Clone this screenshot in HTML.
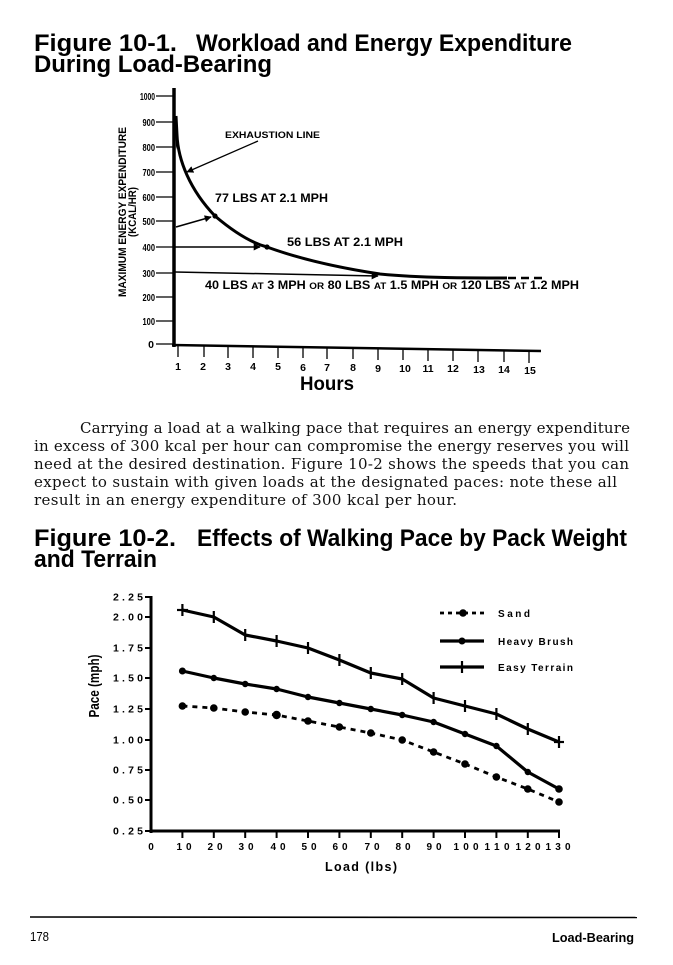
<!DOCTYPE html>
<html><head><meta charset="utf-8"><style>
html,body{margin:0;padding:0;background:#fff;}
svg{display:block;}
.t{font-family:"Liberation Sans",sans-serif;font-weight:bold;fill:#000;}
.s{font-family:"DejaVu Serif",serif;fill:#111;font-size:15px;}
</style></head><body>
<svg width="673" height="965" viewBox="0 0 673 965" xmlns="http://www.w3.org/2000/svg">
<rect width="673" height="965" fill="#fff"/>
<defs>
<marker id="ah" viewBox="0 0 10 10" refX="9" refY="5" markerWidth="7" markerHeight="7" orient="auto" markerUnits="userSpaceOnUse">
<path d="M0,0 L10,5 L0,10 z" fill="#000"/></marker>
</defs>

<!-- Title 1 -->
<text class="t" x="34" y="51" font-size="24" textLength="143" lengthAdjust="spacingAndGlyphs">Figure 10-1.</text>
<text class="t" x="196" y="51" font-size="24" textLength="376" lengthAdjust="spacingAndGlyphs">Workload and Energy Expenditure</text>
<text class="t" x="34" y="72" font-size="24" textLength="238" lengthAdjust="spacingAndGlyphs">During Load-Bearing</text>

<!-- Chart 1 axes -->
<line x1="174" y1="88" x2="174" y2="347" stroke="#000" stroke-width="3.5"/>
<line x1="172" y1="345" x2="541" y2="351" stroke="#000" stroke-width="2.5"/>
<g stroke="#000" stroke-width="1.2">
<line x1="156" y1="96" x2="173" y2="96"/>
<line x1="156" y1="122" x2="173" y2="122"/>
<line x1="156" y1="147" x2="173" y2="147"/>
<line x1="156" y1="172" x2="173" y2="172"/>
<line x1="156" y1="197" x2="173" y2="197"/>
<line x1="156" y1="221" x2="173" y2="221"/>
<line x1="156" y1="247" x2="173" y2="247"/>
<line x1="156" y1="273" x2="173" y2="273"/>
<line x1="156" y1="297" x2="173" y2="297"/>
<line x1="156" y1="321" x2="173" y2="321"/>
<line x1="156" y1="344" x2="173" y2="344"/>
</g>
<g class="t" font-size="10.5" text-anchor="end">
<text x="155" y="100" textLength="15" lengthAdjust="spacingAndGlyphs">1000</text>
<text x="155" y="126" textLength="12.5" lengthAdjust="spacingAndGlyphs">900</text>
<text x="155" y="151" textLength="12.5" lengthAdjust="spacingAndGlyphs">800</text>
<text x="155" y="176" textLength="12.5" lengthAdjust="spacingAndGlyphs">700</text>
<text x="155" y="201" textLength="12.5" lengthAdjust="spacingAndGlyphs">600</text>
<text x="155" y="225" textLength="12.5" lengthAdjust="spacingAndGlyphs">500</text>
<text x="155" y="251" textLength="12.5" lengthAdjust="spacingAndGlyphs">400</text>
<text x="155" y="277" textLength="12.5" lengthAdjust="spacingAndGlyphs">300</text>
<text x="155" y="301" textLength="12.5" lengthAdjust="spacingAndGlyphs">200</text>
<text x="155" y="325" textLength="12.5" lengthAdjust="spacingAndGlyphs">100</text>
<text x="154" y="348">0</text>
</g>
<text class="t" font-size="11" transform="translate(126,212) rotate(-90)" text-anchor="middle" textLength="170" lengthAdjust="spacingAndGlyphs">MAXIMUM ENERGY EXPENDITURE</text>
<text class="t" font-size="11" transform="translate(136,212) rotate(-90)" text-anchor="middle" textLength="50" lengthAdjust="spacingAndGlyphs">(KCAL/HR)</text>

<!-- x ticks chart1 -->
<g stroke="#000" stroke-width="1.3">
<line x1="178" y1="345" x2="178" y2="357"/>
<line x1="204" y1="346" x2="204" y2="357"/>
<line x1="228" y1="346" x2="228" y2="358"/>
<line x1="253" y1="346" x2="253" y2="358"/>
<line x1="278" y1="347" x2="278" y2="358"/>
<line x1="303" y1="347" x2="303" y2="358"/>
<line x1="327" y1="347" x2="327" y2="359"/>
<line x1="353" y1="348" x2="353" y2="359"/>
<line x1="378" y1="348" x2="378" y2="360"/>
<line x1="403" y1="349" x2="403" y2="360"/>
<line x1="428" y1="349" x2="428" y2="361"/>
<line x1="453" y1="349" x2="453" y2="361"/>
<line x1="478" y1="350" x2="478" y2="362"/>
<line x1="504" y1="350" x2="504" y2="362"/>
<line x1="529" y1="351" x2="529" y2="363"/>
</g>
<g class="t" font-size="10.5" text-anchor="middle">
<text x="178" y="370">1</text><text x="203" y="370">2</text><text x="228" y="370">3</text>
<text x="253" y="370">4</text><text x="278" y="370">5</text><text x="303" y="371">6</text>
<text x="327" y="371">7</text><text x="353" y="371">8</text><text x="378" y="372">9</text>
<text x="405" y="372">10</text><text x="428" y="372">11</text><text x="453" y="372">12</text>
<text x="479" y="373">13</text><text x="504" y="373">14</text><text x="530" y="374">15</text>
</g>
<text class="t" x="327" y="390" font-size="19" text-anchor="middle" textLength="54" lengthAdjust="spacingAndGlyphs">Hours</text>

<!-- curve -->
<path d="M176,116 L177,135 C178,160 190,190 215,216 C235,233 252,243 267,247 C300,259 340,268 380,274 C420,278 470,278 507,278" fill="none" stroke="#000" stroke-width="3"/>
<path d="M175,118 L177,118 L178,140 L176,150 z" fill="#000"/>
<line x1="508" y1="278" x2="543" y2="278" stroke="#000" stroke-width="2.5" stroke-dasharray="8,5"/>
<!-- 300 line -->
<line x1="175" y1="272" x2="378" y2="276" stroke="#000" stroke-width="1.5" marker-end="url(#ah)"/>
<!-- 56 arrow -->
<line x1="175" y1="247" x2="260" y2="247" stroke="#000" stroke-width="1.6" marker-end="url(#ah)"/>
<circle cx="267" cy="247" r="2.6" fill="#000"/>
<!-- 77 arrow -->
<line x1="176" y1="227" x2="211" y2="217" stroke="#000" stroke-width="1.6" marker-end="url(#ah)"/>
<circle cx="215" cy="216" r="2.6" fill="#000"/>
<!-- exhaustion arrow -->
<line x1="258" y1="141" x2="187" y2="172" stroke="#000" stroke-width="1.3" marker-end="url(#ah)"/>

<text class="t" x="225" y="138" font-size="9.5" textLength="95" lengthAdjust="spacingAndGlyphs">EXHAUSTION LINE</text>
<text class="t" x="215" y="202" font-size="11.5" textLength="113" lengthAdjust="spacingAndGlyphs">77 LBS AT 2.1 MPH</text>
<text class="t" x="287" y="246" font-size="11.5" textLength="116" lengthAdjust="spacingAndGlyphs">56 LBS AT 2.1 MPH</text>
<text class="t" x="205" y="289" font-size="11.5" textLength="374" lengthAdjust="spacingAndGlyphs">40 LBS <tspan font-size="9">AT</tspan> 3 MPH <tspan font-size="9">OR</tspan> 80 LBS <tspan font-size="9">AT</tspan> 1.5 MPH <tspan font-size="9">OR</tspan> 120 LBS <tspan font-size="9">AT</tspan> 1.2 MPH</text>

<!-- paragraph -->
<text class="s" x="80" y="433" textLength="550" lengthAdjust="spacing">Carrying a load at a walking pace that requires an energy expenditure</text>
<text class="s" x="34" y="451" textLength="595" lengthAdjust="spacing">in excess of 300 kcal per hour can compromise the energy reserves you will</text>
<text class="s" x="34" y="469" textLength="595" lengthAdjust="spacing">need at the desired destination. Figure 10-2 shows the speeds that you can</text>
<text class="s" x="34" y="487" textLength="583" lengthAdjust="spacing">expect to sustain with given loads at the designated paces: note these all</text>
<text class="s" x="34" y="505" textLength="423" lengthAdjust="spacing">result in an energy expenditure of 300 kcal per hour.</text>

<!-- Title 2 -->
<text class="t" x="34" y="546" font-size="24" textLength="142" lengthAdjust="spacingAndGlyphs">Figure 10-2.</text>
<text class="t" x="197" y="546" font-size="24" textLength="430" lengthAdjust="spacingAndGlyphs">Effects of Walking Pace by Pack Weight</text>
<text class="t" x="34" y="567" font-size="24" textLength="123" lengthAdjust="spacingAndGlyphs">and Terrain</text>

<!-- Chart 2 axes -->
<line x1="151" y1="596" x2="151" y2="833" stroke="#000" stroke-width="3"/>
<line x1="150" y1="831" x2="560" y2="831" stroke="#000" stroke-width="3"/>
<g stroke="#000" stroke-width="2">
<line x1="145" y1="597" x2="151" y2="597"/>
<line x1="145" y1="617" x2="151" y2="617"/>
<line x1="145" y1="648" x2="151" y2="648"/>
<line x1="145" y1="678" x2="151" y2="678"/>
<line x1="145" y1="709" x2="151" y2="709"/>
<line x1="145" y1="740" x2="151" y2="740"/>
<line x1="145" y1="770" x2="151" y2="770"/>
<line x1="145" y1="800" x2="151" y2="800"/>
<line x1="145" y1="831" x2="151" y2="831"/>
</g>
<g class="t" font-size="10.5" text-anchor="end">
<text x="143" y="600.5" textLength="30" lengthAdjust="spacing">2.25</text>
<text x="143" y="620.5" textLength="30" lengthAdjust="spacing">2.00</text>
<text x="143" y="651.5" textLength="30" lengthAdjust="spacing">1.75</text>
<text x="143" y="681.5" textLength="30" lengthAdjust="spacing">1.50</text>
<text x="143" y="712.5" textLength="30" lengthAdjust="spacing">1.25</text>
<text x="143" y="743.5" textLength="30" lengthAdjust="spacing">1.00</text>
<text x="143" y="773.5" textLength="30" lengthAdjust="spacing">0.75</text>
<text x="143" y="803.5" textLength="30" lengthAdjust="spacing">0.50</text>
<text x="143" y="834.5" textLength="30" lengthAdjust="spacing">0.25</text>
</g>
<g stroke="#000" stroke-width="2">
<line x1="182.4" y1="831" x2="182.4" y2="838"/><line x1="213.8" y1="831" x2="213.8" y2="838"/>
<line x1="245.2" y1="831" x2="245.2" y2="838"/><line x1="276.6" y1="831" x2="276.6" y2="838"/>
<line x1="308" y1="831" x2="308" y2="838"/><line x1="339.4" y1="831" x2="339.4" y2="838"/>
<line x1="370.8" y1="831" x2="370.8" y2="838"/><line x1="402.2" y1="831" x2="402.2" y2="838"/>
<line x1="433.6" y1="831" x2="433.6" y2="838"/><line x1="465" y1="831" x2="465" y2="838"/>
<line x1="496.4" y1="831" x2="496.4" y2="838"/><line x1="527.8" y1="831" x2="527.8" y2="838"/>
<line x1="559" y1="831" x2="559" y2="838"/>
</g>
<g class="t" font-size="10" text-anchor="middle">
<text x="151" y="850">0</text>
<text x="184" y="850" textLength="15" lengthAdjust="spacing">10</text>
<text x="215" y="850" textLength="15" lengthAdjust="spacing">20</text>
<text x="246" y="850" textLength="15" lengthAdjust="spacing">30</text>
<text x="278" y="850" textLength="15" lengthAdjust="spacing">40</text>
<text x="309" y="850" textLength="15" lengthAdjust="spacing">50</text>
<text x="340" y="850" textLength="15" lengthAdjust="spacing">60</text>
<text x="372" y="850" textLength="15" lengthAdjust="spacing">70</text>
<text x="403" y="850" textLength="15" lengthAdjust="spacing">80</text>
<text x="434" y="850" textLength="15" lengthAdjust="spacing">90</text>
<text x="466" y="850" textLength="25" lengthAdjust="spacing">100</text>
<text x="497" y="850" textLength="25" lengthAdjust="spacing">110</text>
<text x="528" y="850" textLength="25" lengthAdjust="spacing">120</text>
<text x="558" y="850" textLength="25" lengthAdjust="spacing">130</text>
</g>
<text class="t" x="361" y="871" font-size="12.5" text-anchor="middle" textLength="72" lengthAdjust="spacing">Load (lbs)</text>
<text class="t" font-size="15" transform="translate(99,686) rotate(-90)" text-anchor="middle" textLength="63" lengthAdjust="spacingAndGlyphs" style="font-weight:600">Pace  (mph)</text>

<!-- Series -->
<polyline fill="none" stroke="#000" stroke-width="3.2" stroke-linejoin="round" points="182.4,610 213.8,617 245.2,635 276.6,641 308,648 339.4,660 370.8,673 402.2,679 433.6,698 465,706 496.4,714 527.8,729 559,742"/>
<g stroke="#000" stroke-width="2.2">
<line x1="182.4" y1="604" x2="182.4" y2="616"/><line x1="177" y1="610" x2="188" y2="610"/>
<line x1="213.8" y1="611" x2="213.8" y2="623"/>
<line x1="245.2" y1="629" x2="245.2" y2="641"/>
<line x1="276.6" y1="635" x2="276.6" y2="647"/>
<line x1="308" y1="642" x2="308" y2="654"/>
<line x1="339.4" y1="654" x2="339.4" y2="666"/>
<line x1="370.8" y1="667" x2="370.8" y2="679"/>
<line x1="402.2" y1="673" x2="402.2" y2="685"/>
<line x1="433.6" y1="692" x2="433.6" y2="704"/>
<line x1="465" y1="700" x2="465" y2="712"/>
<line x1="496.4" y1="708" x2="496.4" y2="720"/>
<line x1="527.8" y1="723" x2="527.8" y2="735"/>
<line x1="559" y1="736" x2="559" y2="748"/><line x1="554" y1="742" x2="564" y2="742"/>
</g>
<polyline fill="none" stroke="#000" stroke-width="3.2" stroke-linejoin="round" points="182.4,671 213.8,678 245.2,684 276.6,689 308,697 339.4,703 370.8,709 402.2,715 433.6,722 465,734 496.4,746 527.8,772 559,789"/>
<g fill="#000">
<circle cx="182.4" cy="671" r="3.5"/><circle cx="213.8" cy="678" r="3.2"/><circle cx="245.2" cy="684" r="3.2"/>
<circle cx="276.6" cy="689" r="3.2"/><circle cx="308" cy="697" r="3.2"/><circle cx="339.4" cy="703" r="3.2"/>
<circle cx="370.8" cy="709" r="3.2"/><circle cx="402.2" cy="715" r="3.2"/><circle cx="433.6" cy="722" r="3.2"/>
<circle cx="465" cy="734" r="3.2"/><circle cx="496.4" cy="746" r="3.2"/><circle cx="527.8" cy="772" r="3.2"/>
<circle cx="559" cy="789" r="3.8"/>
</g>
<polyline fill="none" stroke="#000" stroke-width="2.8" stroke-dasharray="5,5" points="182.4,706 213.8,708 245.2,712 276.6,715 308,721 339.4,727 370.8,733 402.2,740 433.6,752 465,764 496.4,777 527.8,789 559,802"/>
<g fill="#000">
<circle cx="182.4" cy="706" r="3.8"/><circle cx="213.8" cy="708" r="3.8"/><circle cx="245.2" cy="712" r="3.8"/>
<circle cx="276.6" cy="715" r="4.2"/><circle cx="308" cy="721" r="3.8"/><circle cx="339.4" cy="727" r="3.8"/>
<circle cx="370.8" cy="733" r="3.8"/><circle cx="402.2" cy="740" r="3.8"/><circle cx="433.6" cy="752" r="3.8"/>
<circle cx="465" cy="764" r="3.8"/><circle cx="496.4" cy="777" r="3.8"/><circle cx="527.8" cy="789" r="3.8"/>
<circle cx="559" cy="802" r="3.8"/>
</g>

<!-- Legend -->
<line x1="440" y1="613" x2="484" y2="613" stroke="#000" stroke-width="2.8" stroke-dasharray="4,4"/>
<circle cx="463" cy="613" r="3.8" fill="#000"/>
<line x1="440" y1="641" x2="484" y2="641" stroke="#000" stroke-width="3.2"/>
<circle cx="462" cy="641" r="3.5" fill="#000"/>
<line x1="440" y1="667" x2="484" y2="667" stroke="#000" stroke-width="3.2"/>
<line x1="462" y1="661" x2="462" y2="673" stroke="#000" stroke-width="2.2"/>
<g class="t" font-size="10">
<text x="498" y="617" textLength="32" lengthAdjust="spacing">Sand</text>
<text x="498" y="645" textLength="75" lengthAdjust="spacing">Heavy Brush</text>
<text x="498" y="671" textLength="75" lengthAdjust="spacing">Easy Terrain</text>
</g>

<!-- Footer -->
<line x1="30" y1="917" x2="637" y2="917.5" stroke="#000" stroke-width="1.6"/>
<text x="30" y="941" font-family="Liberation Sans, sans-serif" font-size="12.5" fill="#000" textLength="19" lengthAdjust="spacingAndGlyphs">178</text>
<text class="t" x="634" y="942" font-size="12.5" text-anchor="end" textLength="82" lengthAdjust="spacingAndGlyphs" style="font-weight:600">Load-Bearing</text>
</svg>
</body></html>
